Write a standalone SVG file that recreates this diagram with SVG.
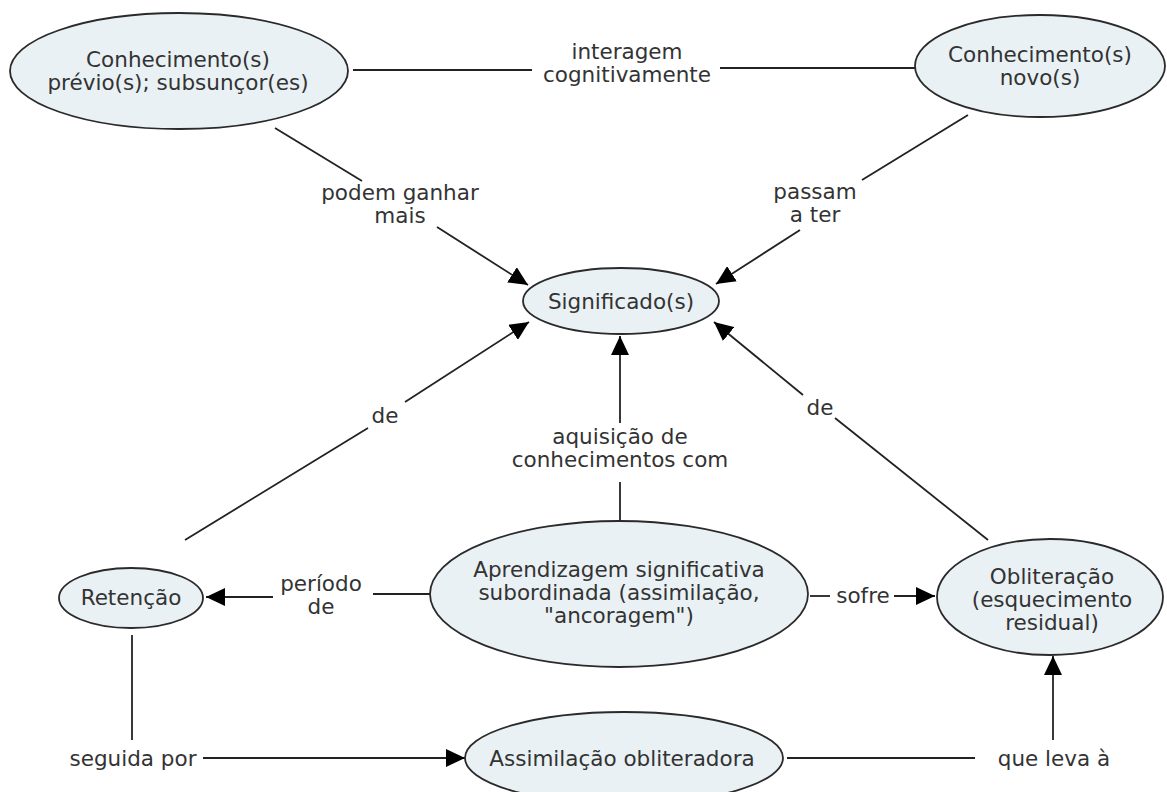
<svg xmlns="http://www.w3.org/2000/svg" width="1167" height="792" viewBox="0 0 1167 792">
<style>
.node ellipse{fill:#e9f1f5;stroke:#2a2a2a;stroke-width:1.8}
text{font-family:"DejaVu Sans","Verdana",sans-serif;font-size:21.5px;fill:#333;text-anchor:middle}
.conn line{stroke:#222;stroke-width:1.8;fill:none}
</style>
<defs>
<marker id="ah" markerUnits="userSpaceOnUse" markerWidth="20" markerHeight="18" refX="19" refY="9" orient="auto">
<path d="M0,0 L19,9 L0,18 z" fill="#000"/>
</marker>
</defs>
<rect width="1167" height="792" fill="#fff"/>
<g id="connectors" class="conn">
<line x1="353" y1="70" x2="532" y2="70"/>
<line x1="720" y1="68" x2="915" y2="68"/>
<text x="627" y="59">interagem</text>
<text x="627" y="82">cognitivamente</text>
<line x1="275" y1="128" x2="362" y2="181"/>
<line x1="437" y1="227" x2="528" y2="285" marker-end="url(#ah)"/>
<text x="400" y="200">podem ganhar</text>
<text x="400" y="223">mais</text>
<line x1="968" y1="115" x2="862" y2="180"/>
<line x1="800" y1="230" x2="716" y2="284" marker-end="url(#ah)"/>
<text x="815" y="199">passam</text>
<text x="815" y="222">a ter</text>
<line x1="185" y1="540" x2="368" y2="428"/>
<line x1="405" y1="402" x2="529" y2="322" marker-end="url(#ah)"/>
<text x="385" y="423">de</text>
<line x1="620" y1="521" x2="620" y2="482"/>
<line x1="620" y1="423" x2="620" y2="336" marker-end="url(#ah)"/>
<text x="620" y="444">aquisição de</text>
<text x="620" y="467">conhecimentos com</text>
<line x1="988" y1="540" x2="835" y2="418"/>
<line x1="803" y1="395" x2="714" y2="322" marker-end="url(#ah)"/>
<text x="820" y="415">de</text>
<line x1="430" y1="594" x2="373" y2="594"/>
<line x1="273" y1="597" x2="206" y2="597" marker-end="url(#ah)"/>
<text x="321" y="591">período</text>
<text x="321" y="614">de</text>
<line x1="810" y1="596" x2="830" y2="596"/>
<line x1="894" y1="596" x2="935" y2="596" marker-end="url(#ah)"/>
<text x="863" y="603">sofre</text>
<line x1="132" y1="635" x2="132" y2="740"/>
<line x1="203" y1="758" x2="465" y2="758" marker-end="url(#ah)"/>
<text x="133" y="766">seguida por</text>
<line x1="787" y1="758" x2="975" y2="758"/>
<line x1="1053" y1="740" x2="1053" y2="656" marker-end="url(#ah)"/>
<text x="1054" y="766">que leva à</text>
</g>
<g id="n-previos" class="node">
<ellipse cx="179" cy="71" rx="169" ry="58"/>
<text x="178" y="67">Conhecimento(s)</text>
<text x="178" y="90">prévio(s); subsunçor(es)</text>
</g>
<g id="n-novos" class="node">
<ellipse cx="1040" cy="66" rx="125" ry="51"/>
<text x="1040" y="62">Conhecimento(s)</text>
<text x="1040" y="85">novo(s)</text>
</g>
<g id="n-significados" class="node">
<ellipse cx="621" cy="301" rx="98" ry="33"/>
<text x="621" y="309">Significado(s)</text>
</g>
<g id="n-retencao" class="node">
<ellipse cx="131" cy="598" rx="72" ry="30"/>
<text x="131" y="605">Retenção</text>
</g>
<g id="n-aprendizagem" class="node">
<ellipse cx="619" cy="594" rx="189" ry="73"/>
<text x="619" y="577">Aprendizagem significativa</text>
<text x="619" y="600">subordinada (assimilação,</text>
<text x="619" y="623">"ancoragem")</text>
</g>
<g id="n-obliteracao" class="node">
<ellipse cx="1050" cy="597" rx="113" ry="58"/>
<text x="1052" y="584">Obliteração</text>
<text x="1052" y="607">(esquecimento</text>
<text x="1052" y="630">residual)</text>
</g>
<g id="n-assimilacao" class="node">
<ellipse cx="624" cy="758" rx="159" ry="46"/>
<text x="622" y="766">Assimilação obliteradora</text>
</g>
</svg>
